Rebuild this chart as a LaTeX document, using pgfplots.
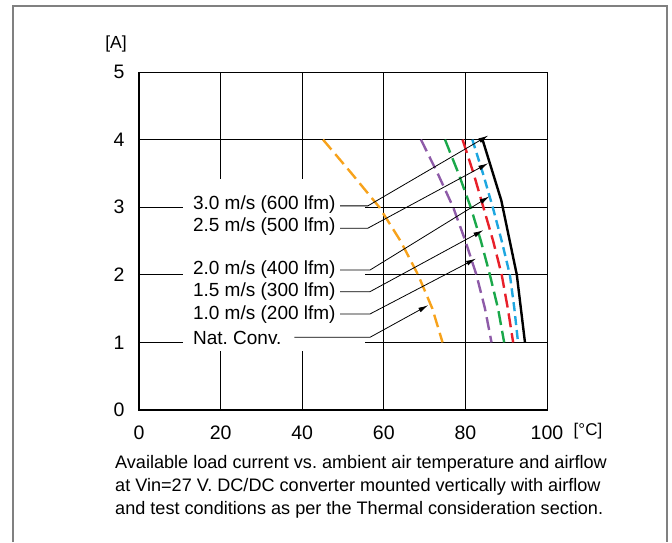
\documentclass[border=0pt]{standalone}
\usepackage{pgfplots}
\pgfplotsset{compat=1.18}
\usepackage{fontspec}
\setmainfont{Liberation Sans}
\usetikzlibrary{arrows.meta}
\definecolor{cOrange}{HTML}{F7A21B}
\definecolor{cPurple}{HTML}{8E5BA8}
\definecolor{cGreen}{HTML}{1AA84A}
\definecolor{cRed}{HTML}{E8202A}
\definecolor{cBlue}{HTML}{1EA7E0}
\definecolor{cFrame}{HTML}{808080}
\begin{document}
\frenchspacing
\begin{tikzpicture}
\useasboundingbox (0pt,0pt) rectangle (672pt,-542pt);
\draw[cFrame, line width=1.3pt] (13pt,-542pt) -- (13pt,-6pt) -- (667pt,-6pt) -- (667pt,-542pt);
\begin{axis}[
  at={(139pt,-410pt)}, anchor=south west,
  scale only axis, width=408pt, height=338pt,
  xmin=0, xmax=100, ymin=0, ymax=5,
  xtick={0,20,40,60,80,100}, ytick={0,1,2,3,4,5},
  major tick length=0pt,
  grid=major,
  major grid style={black, line width=0.8pt},
  axis line style={black, line width=1pt},
  /pgf/number format/assume math mode=true,
  ticklabel style={font=\fontsize{19.5}{22}\selectfont},
  xticklabel style={yshift=-12pt},
  yticklabel style={xshift=-11pt},
  clip=false,
]
\fill[white] (axis cs:10.8,0.88) rectangle (axis cs:55.4,3.42);
\addplot[cOrange, line width=2.4pt, dash pattern=on 13pt off 6pt] coordinates {
 (45.1,4) (52.1,3.5) (58.9,3) (64.1,2.5) (68.4,2) (71.9,1.5) (74.4,1.0)};
\addplot[cPurple, line width=2.4pt, dash pattern=on 13pt off 6pt] coordinates {
 (69.1,4) (73.2,3.5) (77,3) (80,2.5) (82.7,2) (84.8,1.5) (86.4,1)};
\addplot[cGreen, line width=2.4pt, dash pattern=on 14pt off 6pt] coordinates {
 (75,4) (78.3,3.5) (81.3,3) (83.8,2.5) (86,2) (88,1.5) (89.5,1)};
\addplot[cRed, line width=2.4pt, dash pattern=on 14pt off 6pt] coordinates {
 (79.3,4) (82,3.5) (84.4,3) (86.8,2.5) (88.9,2) (90.4,1.5) (91.7,1)};
\addplot[cBlue, line width=2.4pt, dash pattern=on 9pt off 5pt] coordinates {
 (81.7,4) (84.3,3.5) (86.7,3) (88.9,2.5) (90.9,2) (92,1.5) (92.9,1)};
\addplot[black, line width=2.4pt] coordinates {
 (84.2,4) (88.8,3.1) (92.6,2) (94.6,1)};
\draw[black, line width=2.2pt] (axis cs:0,5) -- (axis cs:0,0) -- (axis cs:100,0);
% labels and leaders
\begin{scope}[font=\fontsize{19}{22}\selectfont, every node/.style={anchor=west, inner sep=0pt}]
\node at (axis cs:13.2,3.04) {3.0 m/s (600 lfm)};
\node at (axis cs:13.2,2.71) {2.5 m/s (500 lfm)};
\node at (axis cs:13.2,2.08) {2.0 m/s (400 lfm)};
\node at (axis cs:13.2,1.75) {1.5 m/s (300 lfm)};
\node at (axis cs:13.2,1.41) {1.0 m/s (200 lfm)};
\node at (axis cs:13.2,1.07) {Nat. Conv.};
\end{scope}
\begin{scope}[line width=0.8pt, -{Latex[length=10pt,width=5pt]}]
\draw (axis cs:49.3,3.02) -- (axis cs:56.1,3.02) -- (axis cs:85.6,4.06);
\draw (axis cs:49.3,2.69) -- (axis cs:56.1,2.69) -- (axis cs:85.6,3.65);
\draw (axis cs:49.3,2.07) -- (axis cs:56.6,2.07) -- (axis cs:85.9,3.16);
\draw (axis cs:49.3,1.75) -- (axis cs:56.6,1.75) -- (axis cs:84.4,2.66);
\draw (axis cs:49.3,1.42) -- (axis cs:56.6,1.42) -- (axis cs:82.6,2.24);
\draw (axis cs:38.1,1.075) -- (axis cs:56.6,1.075) -- (axis cs:70.9,1.55);
\end{scope}
\end{axis}
\node[font=\fontsize{17.5}{20}\selectfont] at (116pt,-44pt) {[A]};
\node[font=\fontsize{17}{20}\selectfont] at (588pt,-431pt) {[°C]};
\node[anchor=north west, align=left, inner sep=0pt, font=\fontsize{18.1}{23}\selectfont] at (115pt,-455pt)
 {Available load current vs. ambient air temperature and airflow\\
  at Vin=27 V. DC/DC converter mounted vertically with airflow\\
  and test conditions as per the Thermal consideration section.};
\end{tikzpicture}
\end{document}
